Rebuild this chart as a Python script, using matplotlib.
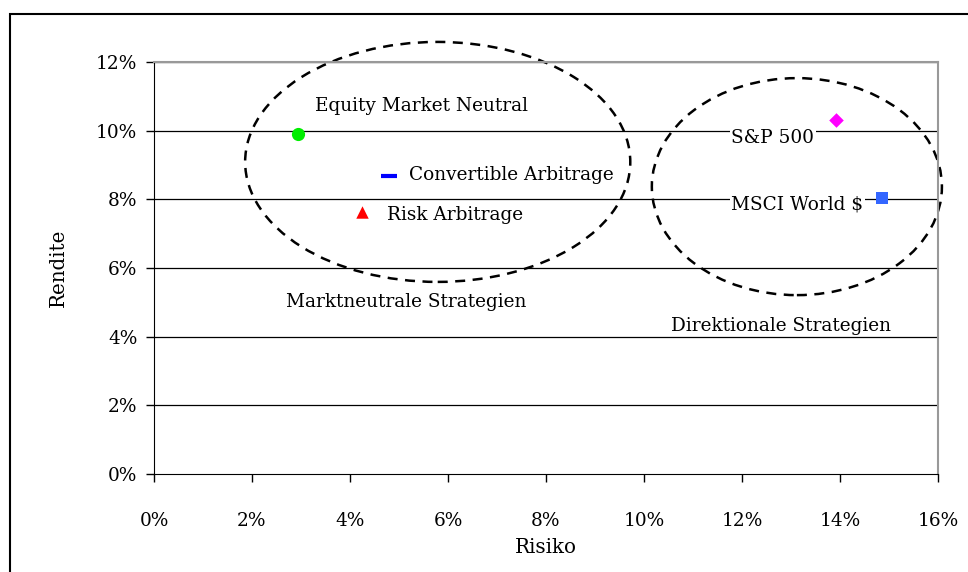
import matplotlib.pyplot as plt
from matplotlib.patches import Ellipse, Rectangle
from matplotlib.ticker import FuncFormatter

plt.rcParams["font.family"] = ["DejaVu Serif"]

# Data (in %)
names = ["Equity Market Neutral", "Convertible Arbitrage", "Risk Arbitrage",
         "S&P 500", "MSCI World $"]
risk = [2.94, 4.80, 4.24, 13.92, 14.86]
ret = [9.90, 8.68, 7.63, 10.31, 8.04]
markers = ["o", "_", "^", "D", "s"]
colors = ["#00ee00", "#0000ff", "#ff0000", "#ff00ff", "#3366ff"]
sizes = [90, 130, 80, 55, 80]

# group ellipses: (center x, center y, width, height)
groups = ["Marktneutrale Strategien", "Direktionale Strategien"]
ell_center_x = [5.79, 13.12]
ell_center_y = [9.09, 8.37]
ell_width = [7.86, 5.92]
ell_height = [6.99, 6.32]

fig = plt.figure(figsize=(9.68, 5.72), dpi=100)
ax = fig.add_axes([154 / 968, 1 - 474 / 572, 784 / 968, 412 / 572])

for y in range(2, 13, 2):
    ax.axhline(y, color="black", lw=0.9, zorder=1)

for i in range(len(names)):
    ax.scatter(risk[i], ret[i], marker=markers[i], s=sizes[i], c=colors[i],
               linewidths=3 if markers[i] == "_" else 0, zorder=3, clip_on=False)

for i in range(2):
    e = Ellipse((ell_center_x[i], ell_center_y[i]), ell_width[i], ell_height[i],
                fill=False, ls=(0, (4, 3)), lw=1.8, color="black", clip_on=False, zorder=2)
    ax.add_patch(e)

fs = 13.3
ax.text(5.45, 10.72, "Equity Market Neutral", ha="center", va="center", fontsize=fs)
ax.text(5.20, 8.70, "Convertible Arbitrage", ha="left", va="center", fontsize=fs)
ax.text(4.75, 7.55, "Risk Arbitrage", ha="left", va="center", fontsize=fs)
ax.text(11.78, 9.80, "S&P 500", ha="left", va="center", fontsize=fs,
        bbox=dict(facecolor="white", edgecolor="none", pad=1), zorder=2.5)
ax.text(11.78, 7.85, "MSCI World $", ha="left", va="center", fontsize=fs,
        bbox=dict(facecolor="white", edgecolor="none", pad=1), zorder=2.5)
ax.text(5.14, 5.00, groups[0], ha="center", va="center", fontsize=fs)
ax.text(12.79, 4.30, groups[1], ha="center", va="center", fontsize=fs)

ax.set_xlim(0, 16)
ax.set_ylim(0, 12)
ax.set_xticks(range(0, 17, 2))
ax.set_yticks(range(0, 13, 2))
pct = FuncFormatter(lambda v, p: f"{v:.0f}%")
ax.xaxis.set_major_formatter(pct)
ax.yaxis.set_major_formatter(pct)
ax.tick_params(direction="out", length=6, width=1, labelsize=fs)
ax.tick_params(axis="x", pad=21)
ax.tick_params(axis="y", pad=6)
ax.spines["top"].set_color("#999999")
ax.spines["right"].set_color("#999999")
ax.spines["top"].set_linewidth(1.5)
ax.spines["right"].set_linewidth(1.5)
ax.set_xlabel("Risiko", fontsize=fs + 1, labelpad=6)
ax.set_ylabel("Rendite", fontsize=fs + 1, labelpad=20)

# outer chart frame
fig.patches.append(Rectangle((10 / 968, -0.1), 1.0, (572 - 14) / 572 + 0.1,
                             transform=fig.transFigure, fill=False,
                             edgecolor="black", lw=1.5))

fig.savefig("out.png", dpi=100)
